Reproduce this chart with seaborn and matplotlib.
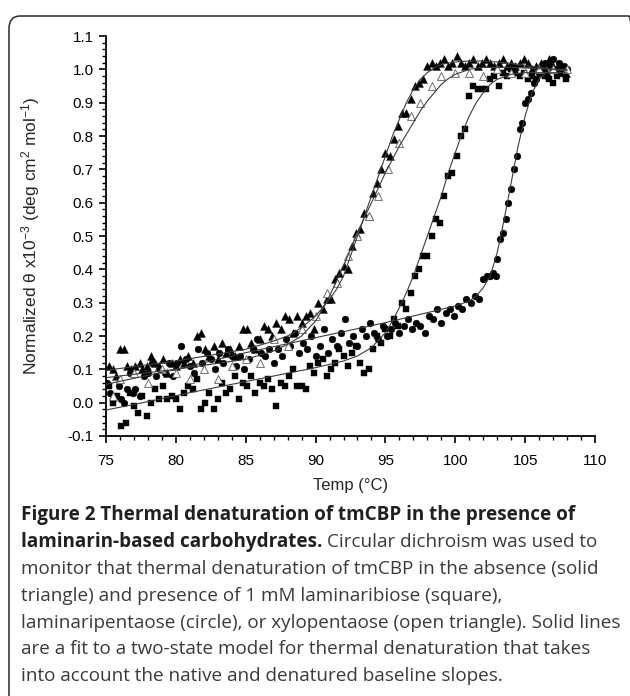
import matplotlib
matplotlib.use("Agg")
from matplotlib import pyplot as plt, patches as mpatches, ticker
import seaborn as sns
import pandas as pd

# solid triangles: no carbohydrate
tri_temp = [75.2, 75.5, 75.7, 76.0, 76.3, 76.5, 76.8, 77.1, 77.4, 77.6, 77.9, 78.2, 78.5, 78.8,
            79.1, 79.4, 79.7, 80.0, 80.3, 80.6, 80.9, 81.2, 81.5, 81.8, 82.1, 82.4, 82.7, 83.0,
            83.3, 83.6, 83.9, 84.2, 84.5, 84.8, 85.1, 85.4, 85.7, 86.0, 86.3, 86.6, 86.9, 87.2,
            87.5, 87.8, 88.1, 88.4, 88.7, 89.0, 89.3, 89.6, 89.9, 90.2, 90.5, 90.8, 91.1, 91.4,
            91.7, 92.0, 92.3, 92.6, 92.9, 93.2, 93.5, 93.8, 94.1, 94.4, 94.7, 95.0, 95.3, 95.6,
            95.9, 96.2, 96.5, 96.8, 97.1, 97.4, 97.7, 98.0, 98.3, 98.6, 98.9, 99.2, 99.5, 99.8,
            100.1, 100.4, 100.7, 101.0, 101.3, 101.6, 101.9, 102.2, 102.5, 102.8, 103.1, 103.4,
            103.7, 104.0, 104.3, 104.6, 104.9, 105.2, 105.5, 105.8, 106.1, 106.4, 106.7, 107.0,
            107.3, 107.6, 107.9]
tri_theta = [0.11, 0.10, 0.08, 0.16, 0.16, 0.11, 0.10, 0.11, 0.12, 0.10, 0.11, 0.14, 0.12, 0.11,
             0.13, 0.09, 0.12, 0.11, 0.13, 0.12, 0.14, 0.12, 0.20, 0.21, 0.16, 0.14, 0.17, 0.13,
             0.18, 0.15, 0.16, 0.14, 0.17, 0.22, 0.22, 0.18, 0.16, 0.19, 0.23, 0.22, 0.20, 0.24,
             0.22, 0.26, 0.25, 0.21, 0.26, 0.24, 0.26, 0.27, 0.22, 0.30, 0.28, 0.31, 0.31, 0.37,
             0.39, 0.41, 0.40, 0.47, 0.51, 0.52, 0.57, 0.56, 0.63, 0.66, 0.70, 0.75, 0.74, 0.79,
             0.83, 0.87, 0.87, 0.91, 0.95, 0.96, 0.97, 1.01, 1.02, 1.01, 1.02, 1.03, 1.01, 1.02,
             1.04, 1.02, 1.01, 1.02, 1.03, 1.01, 1.02, 1.03, 1.02, 1.01, 1.02, 1.03,
             1.01, 1.02, 1.01, 1.02, 1.03, 1.02, 1.00, 1.01, 1.02, 1.00, 1.03, 1.01,
             1.00, 1.01, 0.99]

# open triangles: xylopentaose
open_temp = [75.5, 76.0, 77.0, 78.0, 79.0, 80.0, 81.0, 82.0, 83.0, 84.0, 85.0, 86.0, 87.0, 88.0,
             89.0, 90.0, 90.8, 91.5, 92.3, 93.0, 93.8, 94.5, 95.2, 96.0, 96.8, 97.5, 98.3, 99.0,
             100.0, 101.0, 102.0, 103.0, 104.0, 105.0, 106.0, 107.0, 108.0]
open_theta = [0.02, 0.07, 0.09, 0.06, 0.10, 0.09, 0.07, 0.10, 0.07, 0.11, 0.13, 0.12, 0.19, 0.17,
              0.22, 0.26, 0.33, 0.36, 0.44, 0.50, 0.56, 0.62, 0.70, 0.78, 0.86, 0.90, 0.95, 0.98,
              0.99, 0.99, 0.98, 1.00, 0.99, 0.99, 1.00, 1.00, 1.00]

# squares: laminaribiose
sq_temp = [75.2, 75.5, 75.8, 76.1, 76.4, 76.7, 77.0, 77.3, 77.6, 77.9, 78.2, 78.5, 78.8, 79.1,
           79.4, 79.7, 80.0, 80.3, 80.6, 80.9, 81.2, 81.5, 81.8, 82.1, 82.4, 82.7, 83.0, 83.3,
           83.6, 83.9, 84.2, 84.5, 84.8, 85.1, 85.4, 85.7, 86.0, 86.3, 86.6, 86.9, 87.2, 87.5,
           87.8, 88.1, 88.4, 88.7, 89.0, 89.3, 89.6, 89.9, 90.2, 90.5, 90.8, 91.1, 91.4, 91.7,
           92.0, 92.3, 92.6, 92.9, 93.2, 93.5, 93.8, 94.1, 94.4, 94.7, 95.0, 95.3, 95.6, 95.9,
           96.2, 96.5, 96.8, 97.1, 97.4, 97.7, 98.0, 98.3, 98.6, 98.9, 99.2, 99.5, 99.8, 100.1,
           100.4, 100.7, 101.0, 101.3, 101.6, 101.9, 102.2, 102.5, 102.8, 103.1, 103.4, 103.7,
           104.0, 104.3, 104.6, 104.9, 105.2, 105.5, 105.8, 106.1, 106.4, 106.7, 107.0, 107.3,
           107.6, 107.9]
sq_theta = [0.05, 0.00, 0.02, -0.07, -0.06, 0.03, -0.01, -0.03, 0.02, -0.04, 0.00, 0.04, 0.01, 0.05,
            0.01, 0.02, 0.01, -0.02, 0.03, 0.05, 0.04, 0.07, -0.02, 0.00, 0.03, -0.02, 0.01, 0.06,
            0.03, 0.04, 0.08, 0.01, 0.06, 0.05, 0.08, 0.03, 0.06, 0.05, 0.07, 0.04, -0.01, 0.06,
            0.05, 0.08, 0.10, 0.05, 0.05, 0.04, 0.11, 0.09, 0.12, 0.13, 0.08, 0.10, 0.12, 0.16,
            0.14, 0.11, 0.15, 0.17, 0.12, 0.09, 0.10, 0.16, 0.20, 0.18, 0.22, 0.20, 0.25, 0.23,
            0.30, 0.28, 0.33, 0.38, 0.40, 0.44, 0.44, 0.50, 0.55, 0.54, 0.62, 0.68, 0.69, 0.74,
            0.80, 0.82, 0.92, 0.95, 0.94, 0.94, 0.94, 0.97, 0.98, 0.95, 0.99, 0.98,
            1.00, 0.99, 0.98, 0.99, 0.97, 0.98, 0.97, 0.99, 0.98, 0.97, 0.96, 0.98,
            0.99, 0.97]

# circles: laminaripentaose
circ_temp = [75.1, 75.3, 75.5, 75.7, 75.9, 76.1, 76.3, 76.5, 76.7, 76.9, 77.1, 77.4, 77.7, 78.0,
             78.3, 78.6, 78.9, 79.2, 79.5, 79.8, 80.1, 80.4, 80.7, 81.0, 81.3, 81.6, 81.9, 82.2,
             82.5, 82.8, 83.1, 83.4, 83.7, 84.0, 84.3, 84.6, 84.9, 85.2, 85.5, 85.8, 86.1, 86.4,
             86.7, 87.0, 87.3, 87.6, 87.9, 88.2, 88.5, 88.8, 89.1, 89.4, 89.7, 90.0, 90.3, 90.6,
             90.9, 91.2, 91.5, 91.8, 92.1, 92.4, 92.7, 93.0, 93.3, 93.6, 93.9, 94.2, 94.5, 94.8,
             95.1, 95.4, 95.7, 96.0, 96.3, 96.6, 96.9, 97.2, 97.5, 97.8, 98.1, 98.4, 98.7, 99.0,
             99.3, 99.6, 99.9, 100.2, 100.5, 100.8, 101.1, 101.4, 101.7, 102.0, 102.3, 102.5,
             102.7, 102.9, 103.0, 103.2, 103.4, 103.6, 103.8, 104.0, 104.2, 104.4, 104.6, 104.8,
             105.0, 105.2, 105.4, 105.6, 105.8, 106.0, 106.2, 106.4, 106.6, 106.8, 107.0, 107.2,
             107.4, 107.6, 107.8, 108.0]
circ_theta = [0.06, 0.03, 0.01, 0.02, 0.05, 0.01, 0.00, 0.04, 0.09, 0.03, 0.04, 0.02, 0.08, 0.09,
              0.12, 0.08, 0.10, 0.09, 0.12, 0.08, 0.12, 0.17, 0.13, 0.11, 0.09, 0.16, 0.12, 0.15,
              0.13, 0.10, 0.15, 0.12, 0.16, 0.14, 0.11, 0.14, 0.10, 0.13, 0.16, 0.19, 0.15, 0.14,
              0.16, 0.12, 0.16, 0.14, 0.19, 0.17, 0.21, 0.15, 0.18, 0.16, 0.20, 0.14, 0.17, 0.22,
              0.15, 0.19, 0.17, 0.21, 0.25, 0.18, 0.20, 0.17, 0.22, 0.20, 0.24, 0.21, 0.19, 0.23,
              0.20, 0.22, 0.24, 0.21, 0.23, 0.25, 0.22, 0.24, 0.23, 0.21, 0.26, 0.25, 0.28, 0.24,
              0.27, 0.28, 0.26, 0.29, 0.28, 0.31, 0.30, 0.32, 0.31, 0.37, 0.38, 0.38,
              0.39, 0.38, 0.43, 0.49, 0.51, 0.55, 0.60, 0.64, 0.70, 0.74, 0.82, 0.84,
              0.90, 0.91, 0.93, 0.96, 0.97, 0.99, 1.00, 1.02, 0.98, 1.01, 1.03, 1.00,
              1.02, 0.99, 1.01, 1.00]

# two-state fits
fit_tri_temp = [75, 80, 85, 87, 88, 89, 90, 90.5, 91, 91.5, 92, 92.5, 93, 93.5, 94, 94.5, 95,
                95.5, 96, 96.5, 97, 97.5, 98, 98.5, 99, 100, 101, 102, 103, 104, 105, 106, 107, 108]
fit_tri_theta = [0.097, 0.125, 0.16, 0.185, 0.20, 0.225, 0.26, 0.285, 0.31, 0.34, 0.38, 0.44, 0.50,
                 0.56, 0.62, 0.68, 0.74, 0.80, 0.85, 0.90, 0.94, 0.97, 0.99, 1.005, 1.015, 1.022,
                 1.025, 1.025, 1.022, 1.018, 1.012, 1.006, 1.0, 0.995]
fit_open_temp = [75, 80, 85, 87, 88, 89, 90, 90.5, 91, 91.5, 92, 92.5, 93, 93.5, 94, 94.5, 95,
                 95.5, 96, 96.5, 97, 97.5, 98, 98.5, 99, 99.5, 100, 101, 102, 104, 106, 108]
fit_open_theta = [0.075, 0.10, 0.13, 0.155, 0.175, 0.20, 0.245, 0.28, 0.32, 0.365, 0.41, 0.46, 0.51,
                  0.555, 0.60, 0.645, 0.69, 0.73, 0.77, 0.805, 0.84, 0.875, 0.905, 0.93, 0.955,
                  0.972, 0.985, 1.0, 1.006, 1.006, 1.002, 0.998]
fit_sq_temp = [75, 78, 81, 84, 87, 90, 92, 93, 94, 95, 95.5, 96, 96.5, 97, 97.5, 98, 98.5, 99,
               99.5, 100, 100.5, 101, 101.5, 102, 102.5, 103, 104, 105, 106, 108]
fit_sq_theta = [-0.022, 0.003, 0.03, 0.055, 0.08, 0.105, 0.125, 0.14, 0.165, 0.21, 0.245, 0.285,
                0.33, 0.38, 0.44, 0.50, 0.56, 0.62, 0.69, 0.75, 0.81, 0.86, 0.90, 0.93, 0.955,
                0.97, 0.985, 0.99, 0.99, 0.99]
fit_circ_temp = [75, 80, 85, 90, 95, 98, 100, 101, 101.5, 102, 102.5, 103, 103.5, 104, 104.5,
                 105, 105.5, 106, 106.5, 107, 108]
fit_circ_theta = [0.055, 0.10, 0.15, 0.195, 0.24, 0.27, 0.29, 0.305, 0.32, 0.345, 0.38, 0.45,
                  0.55, 0.66, 0.77, 0.86, 0.93, 0.97, 0.99, 1.0, 1.0]

caption_bold_1 = "Figure 2 Thermal denaturation of tmCBP in the presence of"
caption_bold_2 = "laminarin-based carbohydrates."
caption_rest_2 = "Circular dichroism was used to"
caption_lines = [
    "monitor that thermal denaturation of tmCBP in the absence (solid",
    "triangle) and presence of 1 mM laminaribiose (square),",
    "laminaripentaose (circle), or xylopentaose (open triangle). Solid lines",
    "are a fit to a two-state model for thermal denaturation that takes",
    "into account the native and denatured baseline slopes.",
]

sns.set_style("ticks")
plt.rcParams["font.family"] = ["Liberation Sans", "DejaVu Sans"]
plt.rcParams["mathtext.fontset"] = "custom"
plt.rcParams["mathtext.rm"] = "Liberation Sans"
plt.rcParams["mathtext.default"] = "regular"

fig = plt.figure(figsize=(6.3, 6.96), dpi=100)
ax = fig.add_axes([106 / 630, 1 - 436 / 696, 489 / 630, 400 / 696])

sns.scatterplot(x=sq_temp, y=sq_theta, marker="s", s=20, color="black", edgecolor="black",
                linewidth=0.3, ax=ax)
sns.scatterplot(x=circ_temp, y=circ_theta, marker="o", s=24, color="black", edgecolor="black",
                linewidth=0.3, ax=ax)
sns.scatterplot(x=tri_temp, y=tri_theta, marker="^", s=32, color="black", edgecolor="black",
                linewidth=0.3, ax=ax)
sns.scatterplot(x=open_temp, y=open_theta, marker="^", s=32, color="white", edgecolor="#6e6e6e",
                linewidth=0.7, ax=ax, zorder=4)

fits = [(fit_tri_temp, fit_tri_theta), (fit_open_temp, fit_open_theta),
        (fit_sq_temp, fit_sq_theta), (fit_circ_temp, fit_circ_theta)]
for ft, fy in fits:
    df = pd.DataFrame({"temp": ft, "theta": fy})
    sns.lineplot(data=df, x="temp", y="theta", estimator=None, sort=False, color="#3c3c3c",
                 linewidth=0.8, ax=ax, zorder=5)

ax.set_xlim(75, 110)
ax.set_ylim(-0.1, 1.1)
ax.xaxis.set_major_locator(ticker.MultipleLocator(5))
ax.xaxis.set_minor_locator(ticker.MultipleLocator(1))
ax.yaxis.set_major_locator(ticker.MultipleLocator(0.1))
ax.yaxis.set_minor_locator(ticker.MultipleLocator(0.02))
ax.yaxis.set_major_formatter(ticker.FormatStrFormatter("%.1f"))
ax.tick_params(which="major", length=5, width=1.2, labelsize=11, colors="black", pad=4)
ax.tick_params(axis="x", which="major", pad=8)
ax.tick_params(which="minor", length=3, width=1.0, colors="black")
sns.despine(ax=ax)
for side in ["left", "bottom"]:
    ax.spines[side].set_linewidth(1.3)
    ax.spines[side].set_color("black")

ax.set_xlabel("Temp (°C)", fontsize=12)
ax.set_ylabel("Normalized θ x10$^{-3}$ (deg cm$^{2}$ mol$^{-1}$)", fontsize=12.5)
ax.xaxis.set_label_coords(0.5, -0.105)
ax.yaxis.set_label_coords(-0.13, 0.5)

# rounded frame around figure and caption
frame = mpatches.FancyBboxPatch((9 / 630, -0.05), (640 - 9) / 630, (696 - 16) / 696 + 0.05,
                                boxstyle="round,pad=0,rounding_size=0.018",
                                transform=fig.transFigure, fill=False, edgecolor="#3a3a3a",
                                linewidth=1.2, clip_on=False)
fig.patches.append(frame)

cap_font = ["Open Sans", "DejaVu Sans"]
cap_size = 13.6
x0 = 21 / 630
y_first = 515
step = 26.9
fig.text(x0, 1 - y_first / 696, caption_bold_1, family=cap_font, fontsize=cap_size,
         fontweight="bold", color="#231f20", va="center")
b2 = fig.text(x0, 1 - (y_first + step) / 696, caption_bold_2, family=cap_font, fontsize=cap_size,
              fontweight="bold", color="#231f20", va="center")
fig.canvas.draw()
bb = b2.get_window_extent(fig.canvas.get_renderer())
fig.text(bb.x1 / fig.bbox.width + 5 / 630, 1 - (y_first + step) / 696, caption_rest_2,
         family=cap_font, fontsize=cap_size, color="#3a3a3a", va="center")
for i, line in enumerate(caption_lines):
    fig.text(x0, 1 - (y_first + step * (i + 2)) / 696, line, family=cap_font, fontsize=cap_size,
             color="#3a3a3a", va="center")

fig.savefig("out.png", dpi=100)
